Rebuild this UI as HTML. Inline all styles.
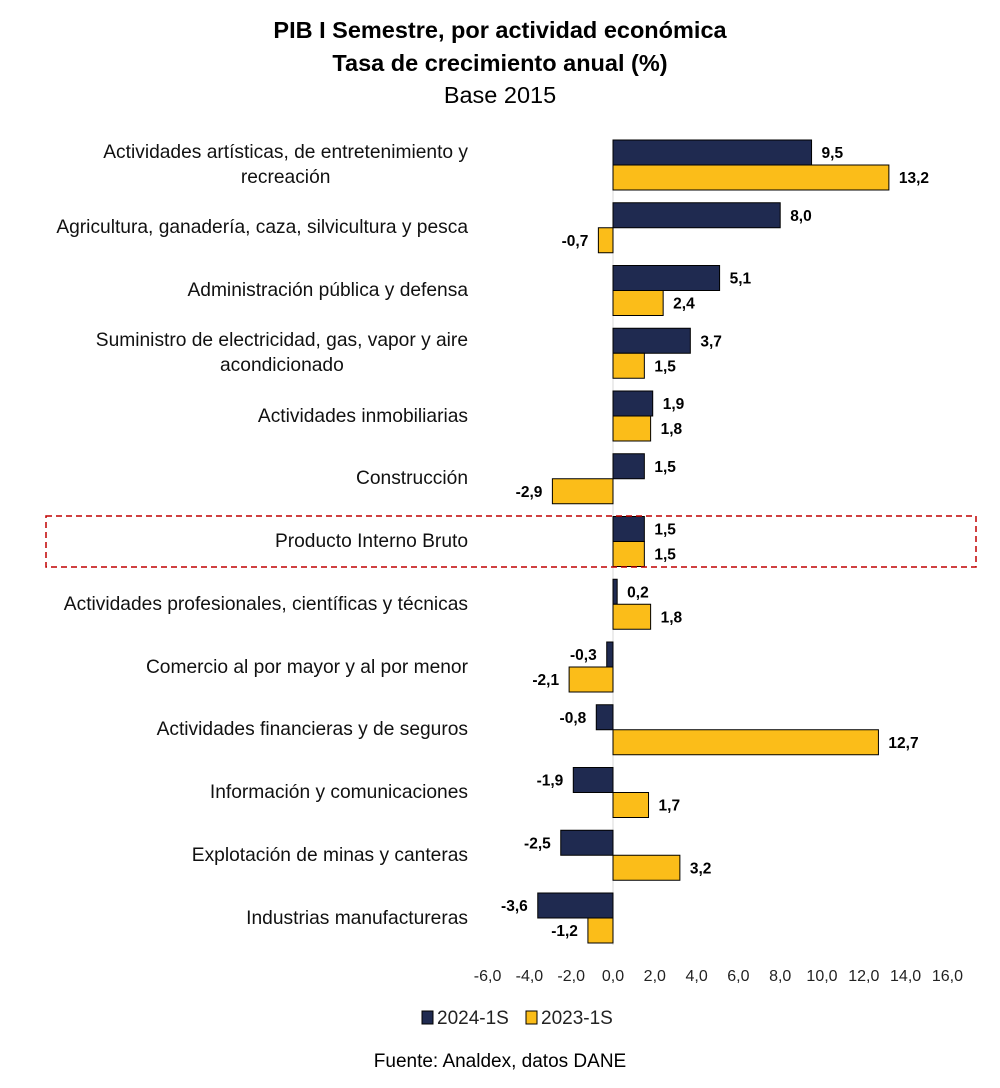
<!DOCTYPE html>
<html><head><meta charset="utf-8">
<style>
html,body{margin:0;padding:0;background:#fff;}
#wrap{position:relative;width:1000px;height:1088px;overflow:hidden;font-family:"Liberation Sans",sans-serif;color:#000;}
.t{position:absolute;left:0;width:1000px;text-align:center;font-size:23.5px;}
.cat{position:absolute;right:532px;text-align:center;white-space:nowrap;font-size:19.2px;line-height:25px;color:#111;}
svg{position:absolute;left:0;top:0;}
</style></head>
<body>
<div id="wrap">
<div class="t" style="top:17px;font-weight:bold">PIB I Semestre, por actividad económica</div>
<div class="t" style="top:50px;font-weight:bold">Tasa de crecimiento anual (%)</div>
<div class="t" style="top:82px">Base 2015</div>
<div id="cats"></div>
<svg id="chart" width="1000" height="1088"></svg>
<div class="t" style="top:1051px;font-size:19px">Fuente: Analdex, datos DANE</div>
</div>
<script>
const categories = [
 ["Actividades artísticas, de entretenimiento y","recreación"],
 ["Agricultura, ganadería, caza, silvicultura y pesca"],
 ["Administración pública y defensa"],
 ["Suministro de electricidad, gas, vapor y aire","acondicionado"],
 ["Actividades inmobiliarias"],
 ["Construcción"],
 ["Producto Interno Bruto"],
 ["Actividades profesionales, científicas y técnicas"],
 ["Comercio al por mayor y al por menor"],
 ["Actividades financieras y de seguros"],
 ["Información y comunicaciones"],
 ["Explotación de minas y canteras"],
 ["Industrias manufactureras"]
];
const series2024 = [9.5,8.0,5.1,3.7,1.9,1.5,1.5,0.2,-0.3,-0.8,-1.9,-2.5,-3.6];
const series2023 = [13.2,-0.7,2.4,1.5,1.8,-2.9,1.5,1.8,-2.1,12.7,1.7,3.2,-1.2];
const xTicks = [-6,-4,-2,0,2,4,6,8,10,12,14,16];
const seriesNames = ["2024-1S","2023-1S"];
const colors = ["#1f2a50","#fbbd19"];

const NS="http://www.w3.org/2000/svg";
const svg=document.getElementById('chart');
const x0=613, pxPer=20.9;
const xs=v=>x0+v*pxPer;
const rowTop=165, rowStep=62.75;
const yc=i=>rowTop+i*rowStep;
const fmt=v=>v.toFixed(1).replace('.',',');
function mk(tag,attrs){const e=document.createElementNS(NS,tag);for(const k in attrs)e.setAttribute(k,attrs[k]);svg.appendChild(e);return e;}

const ax=mk('line',{x1:x0,x2:x0,y1:140,y2:945,stroke:'#d9d9d9','stroke-width':1});



const catsDiv=document.getElementById('cats');
categories.forEach((c,i)=>{
  const d=document.createElement('div');
  d.className='cat';
  d.innerHTML=c.join('<br>');
  d.style.top=(yc(i)-c.length*12.5)+'px';
  
  
  catsDiv.appendChild(d);
  [series2024,series2023].forEach((s,k)=>{
    const v=s[i];
    const y=yc(i)-25+k*25;
    const x1=Math.min(xs(0),xs(v)), w=Math.abs(xs(v)-xs(0));
    const r=mk('rect',{x:x1,y:y,width:Math.max(w,1),height:25,fill:colors[k],stroke:'#000','stroke-width':1});
    
    
    const pos=v>=0;
    const t=mk('text',{x:pos?xs(v)+10:xs(v)-10,y:y+18,'text-anchor':pos?'start':'end','font-size':15.5,'font-weight':'bold','font-family':'Liberation Sans, sans-serif'});
    t.textContent=fmt(v);
    
    
  });
});

const hb=mk('rect',{x:46,y:516,width:930,height:51,fill:'none',stroke:'#c00000','stroke-width':1.5,'stroke-dasharray':'6,4'});



xTicks.forEach(v=>{
  const t=mk('text',{x:xs(v),y:981,'text-anchor':'middle','font-size':16,'font-family':'Liberation Sans, sans-serif',fill:'#222'});
  t.textContent=fmt(v);
  
  
});

const lx=[422,526];
seriesNames.forEach((n,k)=>{
  const r=mk('rect',{x:lx[k],y:1011,width:11,height:13,fill:colors[k],stroke:'#000','stroke-width':1});
  
  
  const t=mk('text',{x:lx[k]+15,y:1024,'font-size':19,'font-family':'Liberation Sans, sans-serif',fill:'#222'});
  t.textContent=n;
  
  
});
</script>
</body></html>
